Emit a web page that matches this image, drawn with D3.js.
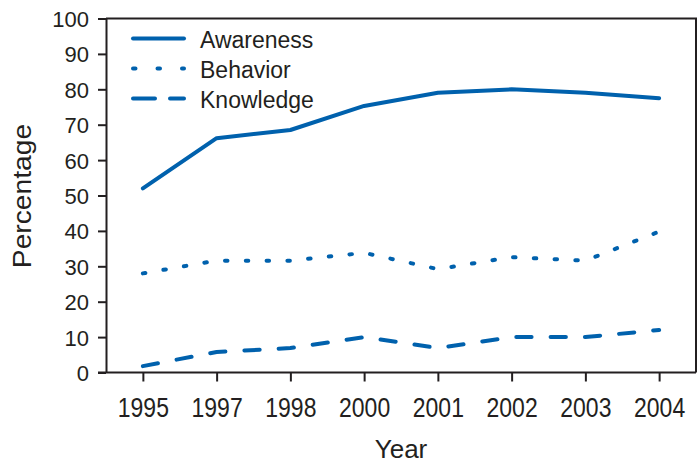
<!DOCTYPE html>
<html>
<head>
<meta charset="utf-8">
<script src="https://cdn.jsdelivr.net/npm/d3@7"></script>
<style>
    body { margin: 0; background: #fff; }
    text { font-family: "Liberation Sans", Arial, sans-serif; fill: #231f20; }
</style>
</head>
<body>
<div id="chart"></div>
<script>
// chart data
var years = ["1995", "1997", "1998", "2000", "2001", "2002", "2003", "2004"];
var awareness = [52, 66.2, 68.5, 75.3, 79, 80, 79, 77.5];
var behavior = [28, 31.6, 31.6, 33.8, 29.2, 32.6, 31.6, 39.8];
var knowledge = [1.8, 5.8, 6.9, 10, 6.9, 10, 10, 12];
var seriesNames = ["Awareness", "Behavior", "Knowledge"];
var yTicks = [0, 10, 20, 30, 40, 50, 60, 70, 80, 90, 100];

var w = 700;
var h = 464;
var plotLeft = 106, plotRight = 696, plotTop = 18.5, plotBottom = 372.5;
var blue = "#0061ad";
var axisColor = "#231f20";

var svg = d3.select("#chart").append("svg")
    .attr("width", w)
    .attr("height", h);

var xScale = d3.scalePoint()
    .domain(years)
    .range([plotLeft, plotRight])
    .padding(0.5);

var yScale = d3.scaleLinear()
    .domain([0, 100])
    .range([plotBottom, plotTop]);

// frame (top and right)
svg.append("path")
    .attr("d", "M" + plotLeft + "," + plotTop + "H" + plotRight + "V" + plotBottom)
    .attr("fill", "none")
    .attr("stroke", axisColor)
    .attr("stroke-width", 2);

// y axis
var yAxis = svg.append("g")
    .attr("transform", "translate(" + plotLeft + ",0)")
    .call(d3.axisLeft(yScale).tickValues(yTicks).tickSize(8).tickPadding(9).tickSizeOuter(0));
yAxis.select(".domain").attr("stroke", axisColor).attr("stroke-width", 2);
yAxis.selectAll(".tick line").attr("stroke", axisColor).attr("stroke-width", 2);
yAxis.selectAll(".tick text")
    .attr("font-size", "22px")
    .attr("font-family", "Liberation Sans, Arial, sans-serif")
    .attr("fill", axisColor)
    .attr("dy", "0.36em");

// x axis (labels a bit taller than wide, as in the original)
var xAxis = svg.append("g")
    .attr("transform", "translate(0," + plotBottom + ")")
    .call(d3.axisBottom(xScale).tickSize(9).tickPadding(12).tickSizeOuter(0));
xAxis.select(".domain").attr("stroke", axisColor).attr("stroke-width", 2)
    .attr("d", "M" + (plotLeft - 8) + ",0H" + plotRight);
xAxis.selectAll(".tick line").attr("stroke", axisColor).attr("stroke-width", 2);
xAxis.selectAll(".tick text")
    .attr("font-size", "23px")
    .attr("font-family", "Liberation Sans, Arial, sans-serif")
    .attr("fill", axisColor)
    .attr("transform", "scale(1,1.18)");

// lines
var line = d3.line()
    .x(function(d, i) { return xScale(years[i]); })
    .y(function(d) { return yScale(d); });

var dashes = ["none", "2.5 18.3", "15.3 19"];
[awareness, behavior, knowledge].forEach(function(values, i) {
    svg.append("path")
        .datum(values)
        .attr("d", line)
        .attr("fill", "none")
        .attr("stroke", blue)
        .attr("stroke-width", 4)
        .attr("stroke-linecap", "round")
        .attr("stroke-linejoin", "round")
        .attr("stroke-dasharray", dashes[i]);
});

// legend
var legendDash = ["none", "2.5 22", "22 15"];
seriesNames.forEach(function(name, i) {
    var ly = 38.5 + i * 30;
    svg.append("line")
        .attr("x1", 133).attr("x2", 184)
        .attr("y1", ly).attr("y2", ly)
        .attr("stroke", blue)
        .attr("stroke-width", 4)
        .attr("stroke-linecap", "round")
        .attr("stroke-dasharray", legendDash[i]);
    svg.append("text")
        .attr("x", 200)
        .attr("y", ly + 9)
        .attr("font-size", "23px")
        .text(name);
});

// axis titles
svg.append("text")
    .attr("text-anchor", "middle")
    .attr("x", 401)
    .attr("y", 458)
    .attr("font-size", "26px")
    .text("Year");

svg.append("text")
    .attr("text-anchor", "middle")
    .attr("transform", "translate(31,196) rotate(-90) scale(1.13,1)")
    .attr("font-size", "25px")
    .text("Percentage");
</script>
</body>
</html>
